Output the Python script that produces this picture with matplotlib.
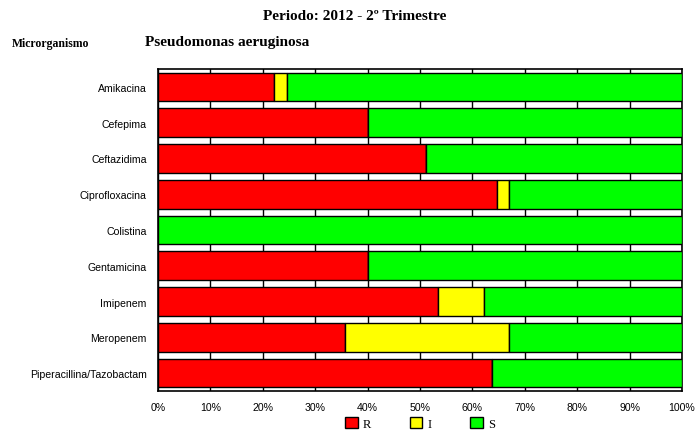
import numpy as np
import matplotlib.pyplot as plt
from matplotlib.patches import Patch

# data (percent of isolates)
antibioticos = ["Amikacina", "Cefepima", "Ceftazidima", "Ciprofloxacina", "Colistina",
                "Gentamicina", "Imipenem", "Meropenem", "Piperacillina/Tazobactam"]
resistente = [22.2, 40.0, 51.2, 64.6, 0.0, 40.0, 53.5, 35.6, 63.8]
intermedio = [2.4, 0.0, 0.0, 2.3, 0.0, 0.0, 8.8, 31.3, 0.0]
sensible = [75.4, 60.0, 48.8, 33.1, 100.0, 60.0, 37.7, 33.1, 36.2]
x_ticks = np.arange(0, 101, 10)

fig = plt.figure(figsize=(6.99, 4.39), dpi=100)
ax = fig.add_axes([0.226, 0.107, 0.7497, 0.7335])

y = np.arange(len(antibioticos))
r = np.array(resistente)
i = np.array(intermedio)
s = np.array(sensible)
ax.barh(y, r, height=0.8, color="#ff0000", edgecolor="black", linewidth=1, zorder=3)
ax.barh(y, i, left=r, height=0.8, color="#ffff00", edgecolor="black", linewidth=1, zorder=3)
ax.barh(y, s, left=r + i, height=0.8, color="#00ff00", edgecolor="black", linewidth=1, zorder=3)

ax.set_xlim(0, 100)
ax.set_ylim(len(antibioticos) - 0.5, -0.5)
ax.set_yticks(y)
ax.set_yticklabels(antibioticos, fontfamily="Liberation Sans", fontsize=7.6)
ax.set_xticks(x_ticks)
ax.set_xticklabels([f"{v}%" for v in x_ticks], fontfamily="Liberation Sans", fontsize=7.6)
ax.tick_params(length=0, pad=8)
ax.tick_params(axis="y", pad=8)
ax.grid(axis="x", color="black", linewidth=1, zorder=0)
for sp in ax.spines.values():
    sp.set_linewidth(1.2)

fig.text(0.507, 0.978, "Periodo: 2012 - 2º Trimestre", ha="center", va="top",
         fontfamily="Liberation Serif", fontweight="bold", fontsize=11)
fig.text(0.017, 0.9, "Microrganismo", ha="left", va="center",
         fontfamily="Liberation Serif", fontweight="bold", fontsize=8.5)
fig.text(0.207, 0.904, "Pseudomonas aeruginosa", ha="left", va="center",
         fontfamily="Liberation Serif", fontweight="bold", fontsize=11)

handles = [Patch(facecolor=c, edgecolor="black", linewidth=1) for c in ["#ff0000", "#ffff00", "#00ff00"]]
fig.legend(handles, ["R", "I", "S"], loc="center", bbox_to_anchor=(0.601, 0.034), ncol=3,
           frameon=False, prop={"family": "Liberation Serif", "size": 9},
           handlelength=1.0, handleheight=1.0, handletextpad=0.4, columnspacing=3.1)

fig.savefig("out.png", dpi=100)
